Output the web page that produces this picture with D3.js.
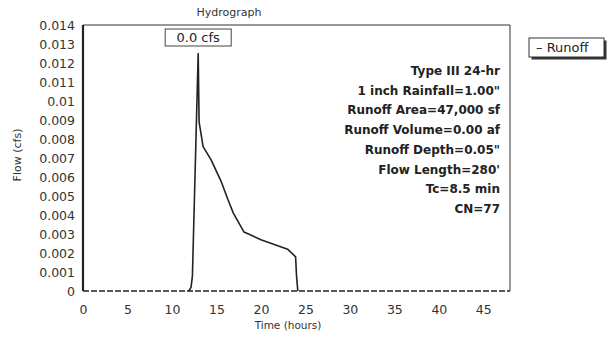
<!DOCTYPE html>
<html>
<head>
<meta charset="utf-8">
<script src="https://cdn.jsdelivr.net/npm/d3@7"></script>
<style>
  body { margin: 0; background: #fff; }
  svg { font-family: "DejaVu Sans", Arial, sans-serif; }
</style>
</head>
<body>
<div id="chart"></div>
<script>
// hydrograph
const hours = [11.9, 12.15, 12.3, 12.95, 13.05, 13.5, 14.4, 15.5, 16.3, 16.9, 18.1, 20.0, 23.0, 23.9, 24.0, 24.15];
const flow = [0, 0.0002, 0.0008, 0.0125, 0.0089, 0.0076, 0.0069, 0.0058, 0.0048, 0.0041, 0.0031, 0.0027, 0.0022, 0.0018, 0.0008, 0];
const xTicks = [0, 5, 10, 15, 20, 25, 30, 35, 40, 45];
const yTicks = [0, 0.001, 0.002, 0.003, 0.004, 0.005, 0.006, 0.007, 0.008, 0.009, 0.01, 0.011, 0.012, 0.013, 0.014];
const notes = ["Type III 24-hr", "1 inch Rainfall=1.00\"", "Runoff Area=47,000 sf", "Runoff Volume=0.00 af",
  "Runoff Depth=0.05\"", "Flow Length=280'", "Tc=8.5 min", "CN=77"];

const W = 612, H = 338;
const margin = { top: 25, right: 102, bottom: 47, left: 83 };
const width = W - margin.left - margin.right,
  height = H - margin.top - margin.bottom;

const svg = d3.select("#chart").append("svg").attr("width", W).attr("height", H);
const g = svg.append("g").attr("transform", `translate(${margin.left},${margin.top})`);

const x = d3.scaleLinear().domain([0, 48]).range([0, width]);
const y = d3.scaleLinear().domain([0, 0.014]).range([height, 0]);

// axes (labels only, frame drawn by hand)
g.append("g")
  .attr("transform", `translate(0,${height})`)
  .call(d3.axisBottom(x).tickValues(xTicks).tickSize(0).tickPadding(14).tickFormat(d3.format("d")))
  .call((a) => a.select(".domain").remove())
  .selectAll("text")
  .style("font-family", "DejaVu Sans")
  .style("font-size", "12.5px")
  .attr("fill", "#333");

g.append("g")
  .call(d3.axisLeft(y).tickValues(yTicks).tickSize(0).tickPadding(8).tickFormat((d) => (d === 0 ? "0" : +d.toFixed(3) + "")))
  .call((a) => a.select(".domain").remove())
  .selectAll("text")
  .style("font-family", "DejaVu Sans")
  .style("font-size", "12.5px")
  .attr("fill", "#333");

// frame
g.append("path")
  .attr("d", `M0,${height}V0H${width}V${height}`)
  .attr("fill", "none")
  .attr("stroke", "#333")
  .attr("stroke-width", 1);
g.append("line")
  .attr("x1", 0).attr("x2", 0).attr("y1", 0).attr("y2", height)
  .attr("stroke", "#222").attr("stroke-width", 2.2);
g.append("line")
  .attr("x1", 0).attr("x2", width).attr("y1", height).attr("y2", height)
  .attr("stroke", "#222").attr("stroke-width", 1.6)
  .attr("stroke-dasharray", "6,2");

// the runoff curve
const line = d3.line()
  .x((d, i) => x(hours[i]))
  .y((d) => y(d));
g.append("path")
  .datum(flow)
  .attr("d", line)
  .attr("fill", "none")
  .attr("stroke", "#222")
  .attr("stroke-width", 1.6)
  .attr("stroke-linejoin", "round");

// peak label
const peakX = x(hours[flow.indexOf(d3.max(flow))]);
g.append("rect")
  .attr("x", peakX - 33).attr("y", 4)
  .attr("width", 66).attr("height", 17)
  .attr("fill", "#fff").attr("stroke", "#444").attr("stroke-width", 1);
g.append("text")
  .attr("x", peakX).attr("y", 17)
  .attr("text-anchor", "middle")
  .style("font-size", "13px")
  .attr("fill", "#222")
  .text("0.0 cfs");

// notes on the right
g.selectAll(".note")
  .data(notes)
  .join("text")
  .attr("class", "note")
  .attr("x", 417)
  .attr("y", (d, i) => 50 + i * 19.7)
  .attr("text-anchor", "end")
  .style("font-size", "12px")
  .style("font-weight", "bold")
  .attr("fill", "#222")
  .text((d) => d);

// title and axis titles
svg.append("text")
  .attr("x", 229).attr("y", 16)
  .attr("text-anchor", "middle")
  .style("font-size", "11px")
  .attr("fill", "#333")
  .text("Hydrograph");

svg.append("text")
  .attr("x", 288).attr("y", 329)
  .attr("text-anchor", "middle")
  .style("font-size", "10.5px")
  .attr("fill", "#333")
  .text("Time (hours)");

svg.append("text")
  .attr("transform", "translate(21,155) rotate(-90)")
  .attr("text-anchor", "middle")
  .style("font-size", "11px")
  .attr("fill", "#333")
  .text("Flow (cfs)");

// legend with a drop shadow
const leg = svg.append("g").attr("transform", "translate(529,38)");
leg.append("rect").attr("x", 2.5).attr("y", 2.5).attr("width", 75).attr("height", 19).attr("fill", "#333");
leg.append("rect").attr("width", 75).attr("height", 19).attr("fill", "#fff").attr("stroke", "#333");
leg.append("text")
  .attr("x", 7).attr("y", 14)
  .style("font-size", "13px")
  .attr("fill", "#222")
  .text("\u2013 Runoff");
</script>
</body>
</html>
